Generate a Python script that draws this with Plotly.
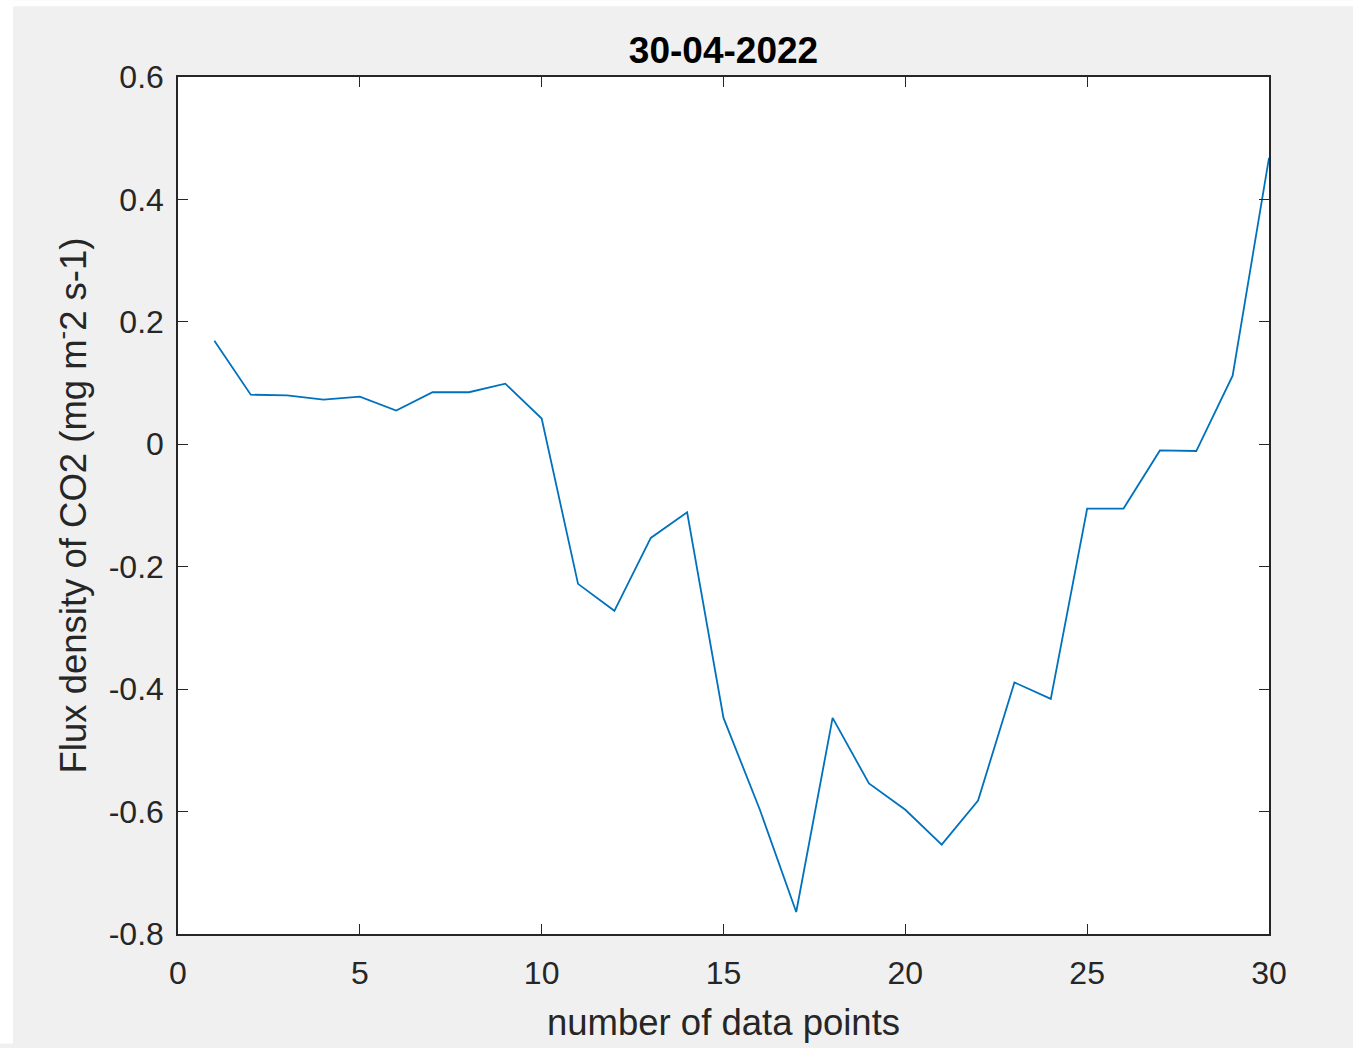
import plotly.graph_objects as go

# Data
x_points = list(range(1, 31))
flux_co2 = [0.169, 0.081, 0.080, 0.073, 0.078, 0.055, 0.085, 0.085, 0.099, 0.042,
            -0.228, -0.272, -0.153, -0.111, -0.447, -0.597, -0.764, -0.447, -0.554, -0.597,
            -0.654, -0.582, -0.389, -0.416, -0.105, -0.105, -0.010, -0.011, 0.112, 0.468]
x_ticks = [0, 5, 10, 15, 20, 25, 30]
y_ticks = [0.6, 0.4, 0.2, 0, -0.2, -0.4, -0.6, -0.8]
y_tick_text = ["0.6", "0.4", "0.2", "0", "-0.2", "-0.4", "-0.6", "-0.8"]

title_text = "30-04-2022"
x_title = "number of data points"
y_title = "Flux density of CO2 (mg m<sup>-</sup>2 s-1)"

W, H = 1353, 1048
L, R, T, B = 178, 84, 77, 110
pw, ph = W - L - R, H - T - B

FONT = "Liberation Sans, Arial, Helvetica, sans-serif"
AX = "#262626"

fig = go.Figure()
fig.add_trace(go.Scatter(x=x_points, y=flux_co2, mode="lines",
                         line=dict(color="#0072BD", width=1.8), showlegend=False))

def px2x(p):
    return (p - L) / pw

def py2y(p):
    return (H - B - p) / ph

# white strips at the top and left edges of the picture
fig.add_shape(type="rect", xref="paper", yref="paper", x0=px2x(0), x1=px2x(13),
              y0=py2y(H), y1=py2y(0), fillcolor="white", line_width=0, layer="below")
fig.add_shape(type="rect", xref="paper", yref="paper", x0=px2x(0), x1=px2x(W),
              y0=py2y(6), y1=py2y(0), fillcolor="white", line_width=0, layer="below")

fig.update_layout(
    width=W, height=H,
    margin=dict(l=L, r=R, t=T, b=B, pad=0),
    paper_bgcolor="#f0f0f0", plot_bgcolor="white",
    font=dict(family=FONT, color=AX, size=32),
    title=dict(text="<b>" + title_text + "</b>", x=0.5, xref="paper",
               y=1 - 50 / H, yref="container", yanchor="middle", xanchor="center",
               font=dict(size=37, color="black", family=FONT)),
    xaxis=dict(range=[0, 30], tickvals=x_ticks, ticktext=[str(v) for v in x_ticks],
               ticks="inside", ticklen=10, tickwidth=1.2, tickcolor=AX,
               showline=True, linecolor=AX, linewidth=1.5, mirror="ticks",
               showgrid=False, zeroline=False, ticklabelstandoff=10,
               title=dict(text=x_title, font=dict(size=36.5, color=AX), standoff=19)),
    yaxis=dict(range=[-0.8, 0.6], tickvals=y_ticks, ticktext=y_tick_text,
               ticks="inside", ticklen=10, tickwidth=1.2, tickcolor=AX,
               showline=True, linecolor=AX, linewidth=1.5, mirror="ticks",
               showgrid=False, zeroline=False, ticklabelstandoff=6,
               title=dict(text=y_title, font=dict(size=36.5, color=AX), standoff=11)),
)

fig.write_html("out.html", config={"displayModeBar": False},
               post_script="document.body.style.margin='0';document.body.style.overflow='hidden';")
